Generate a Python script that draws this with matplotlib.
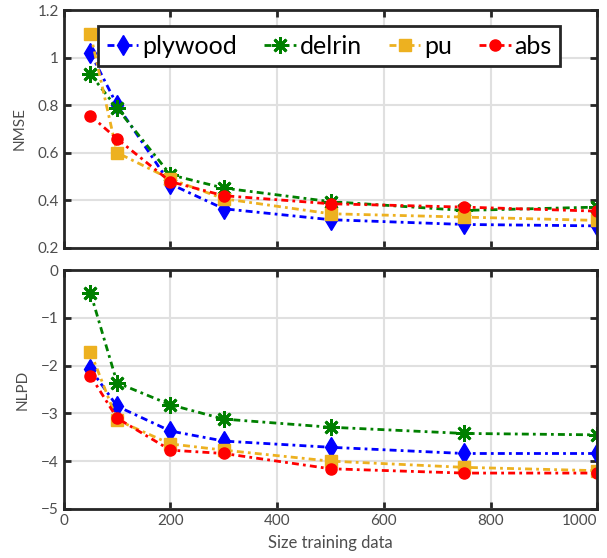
import matplotlib.pyplot as plt
import numpy as np

# training set sizes
sizes = [50, 100, 200, 300, 500, 750, 1000]

# NMSE per material
nmse_plywood = [1.02, 0.80, 0.468, 0.364, 0.318, 0.298, 0.292]
nmse_delrin = [0.93, 0.787, 0.507, 0.451, 0.394, 0.357, 0.371]
nmse_pu = [1.10, 0.60, 0.489, 0.406, 0.343, 0.329, 0.315]
nmse_abs = [0.756, 0.658, 0.478, 0.419, 0.385, 0.371, 0.354]

# NLPD per material
nlpd_plywood = [-2.07, -2.85, -3.37, -3.58, -3.71, -3.84, -3.84]
nlpd_delrin = [-0.47, -2.36, -2.82, -3.12, -3.29, -3.42, -3.45]
nlpd_pu = [-1.71, -3.14, -3.64, -3.77, -4.00, -4.13, -4.20]
nlpd_abs = [-2.21, -3.10, -3.77, -3.84, -4.16, -4.25, -4.25]

labels = ['plywood', 'delrin', 'pu', 'abs']
colors = ['#0000ff', '#008000', '#edb120', '#ff0000']
markers = ['d', (8, 2, 0), 's', 'o']
msizes = [10, 12, 8, 8]

plt.rcParams['font.family'] = ['Lato', 'DejaVu Sans']

fig = plt.figure(figsize=(6.07, 5.58), dpi=100)
ax1 = fig.add_axes([0.105, 0.556, 0.879, 0.426])
ax2 = fig.add_axes([0.105, 0.088, 0.879, 0.428])

def style(ax):
    ax.grid(True, color='#e0e0e0', linewidth=1.5)
    ax.set_axisbelow(True)
    for s in ax.spines.values():
        s.set_linewidth(2)
        s.set_color('#262626')
    ax.tick_params(direction='in', length=5, width=2, top=True, right=True,
                   labelsize=11, labelcolor='#4d4d4d', color='#262626')
    ax.set_xlim(0, 1000)

def draw(ax, series):
    for ys, lab, c, m, ms in zip(series, labels, colors, markers, msizes):
        ax.plot(sizes, ys, linestyle=(0, (2.5, 1.5, 1, 1.5)), color=c,
                marker=m, markersize=ms, linewidth=2, label=lab,
                markeredgewidth=2 if m == (8, 2, 0) else 1)

draw(ax1, [nmse_plywood, nmse_delrin, nmse_pu, nmse_abs])
draw(ax2, [nlpd_plywood, nlpd_delrin, nlpd_pu, nlpd_abs])

style(ax1)
style(ax2)
ax1.set_ylim(0.2, 1.2)
ax1.set_yticks([0.2, 0.4, 0.6, 0.8, 1, 1.2])
ax1.set_yticklabels(['0.2', '0.4', '0.6', '0.8', '1', '1.2'])
ax1.set_xticks([0, 200, 400, 600, 800, 1000])
ax1.set_xticklabels([])
ax1.set_ylabel('NMSE', fontsize=11, color='#4d4d4d', labelpad=8)

ax2.set_ylim(-5, 0)
ax2.set_yticks([-5, -4, -3, -2, -1, 0])
ax2.set_xticks([0, 200, 400, 600, 800, 1000])
ax2.set_xticklabels(['0', '200', '400', '600', '800', '1000'])
ax2.get_xticklabels()[-1].set_horizontalalignment('right')
ax2.set_ylabel('NLPD', fontsize=11, color='#4d4d4d', labelpad=8)
ax2.set_xlabel('Size training data', fontsize=12, color='#4d4d4d', labelpad=5)

leg = ax1.legend(loc='upper right', bbox_to_anchor=(0.931, 0.933), ncol=4,
                 fontsize=18, fancybox=False, framealpha=1, edgecolor='#262626',
                 handlelength=1.25, handletextpad=0.15, columnspacing=1.1,
                 borderpad=0.35, borderaxespad=0)
leg.get_frame().set_linewidth(2)

fig.savefig('out.png', dpi=100)
